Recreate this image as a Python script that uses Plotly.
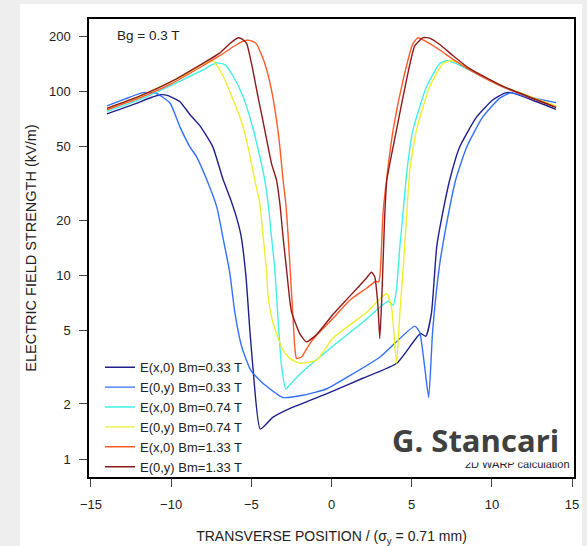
import plotly.graph_objects as go

# ---- data ----
x_ex033 = [-14, -12.5, -11.2, -10.7, -10.2, -9.45, -8.83, -8.2, -7.4, -6.77, -6.34, -5.96, -5.65, -5.34,
           -5.09, -4.9, -4.44, -3.66, -2.41, -0.1, 1.95, 4.07, 5.55, 5.88, 6.23, 6.56, 6.93, 7.37, 7.99,
           9.05, 10.05, 10.8, 11.2, 12.35, 14]
y_ex033 = [75.5, 84, 93, 96, 95, 88, 75, 65, 50, 33.4, 26.6, 21.2, 16.6, 10.0,
           5.03, 3.17, 1.46, 1.69, 1.92, 2.31, 2.76, 3.33, 4.83, 4.67, 6.22, 14.3, 21.8, 33.0, 49.9,
           72.7, 89.8, 98, 98.5, 91, 80]

x_ey033 = [-14, -12.9, -11.76, -10.9, -10.07, -9.45, -8.83, -8.4, -7.77, -7.15, -6.77, -6.34, -6.02,
           -5.59, -5.03, -4.28, -3.03, -1.79, -0.29, 0.95, 3.01, 5.19, 5.5, 5.81, 6.06, 6.31, 6.74,
           7.18, 7.74, 8.43, 9.43, 10.49, 11.17, 12.35, 14]
y_ey033 = [83.5, 90.8, 98.5, 97.5, 86.5, 64.2, 50, 44, 33, 23.5, 16.1, 10.3, 6.23,
           4.07, 3.05, 2.59, 2.17, 2.23, 2.42, 2.79, 3.59, 5.3, 4.91, 3.17, 2.17, 5.03, 11.4,
           19.2, 33, 49.9, 72.7, 92, 98.2, 93, 87]

x_ex074 = [-14, -12, -10, -9, -8, -7.5, -7.15, -6.65, -6.13, -5.51, -4.98, -4.47, -4.16, -3.95, -3.74,
           -3.53, -3.33, -3.12, -2.85, -2.5, -1.98, 0.08, 1.95, 3.53, 3.84, 4.05, 4.26, 4.46, 4.67,
           5.08, 5.92, 6.75, 7.17, 7.68, 8.2, 10.67, 14]
y_ex074 = [78, 90, 108, 119, 131, 139, 143, 140, 121, 93.5, 67, 44.3, 33, 24.6, 16.2,
           10.7, 5.71, 3.25, 2.42, 2.6, 2.9, 4.12, 5.56, 7.24, 6.87, 8.33, 14.3, 21.7, 35,
           61.7, 106, 142, 147, 143, 136, 106, 82.5]

x_ey074 = [-14, -12, -10, -9, -8.2, -7.69, -7.38, -6.75, -6.13, -5.71, -5.3, -4.78, -4.47, -4.26, -4.05,
           -3.95, -3.72, -3.43, -3.02, -2.6, -1.98, -0.93, 0.08, 2.2, 3.43, 3.74, 4.05, 4.26, 4.46,
           4.67, 4.88, 5.3, 6.12, 6.95, 7.5, 7.99, 8.62, 10.67, 14]
y_ey074 = [81, 94, 113, 125, 138, 146, 147, 121, 89.8, 72.7, 54.4, 33, 24.6, 16.2, 10.7,
           7.62, 5.85, 4.83, 3.92, 3.54, 3.33, 3.46, 4.55, 6.31, 7.97, 6.74, 3.33, 6.2, 10.7,
           20, 37.4, 61.7, 106, 142, 147, 142, 132, 107, 83.5]

x_ex133 = [-14, -12, -10, -8.2, -7, -6.13, -5.6, -5.3, -4.95, -4.67, -4.16, -3.74, -3.43, -3.22, -3.02,
           -2.85, -2.7, -2.55, -2.39, -2.29, -2.18, -1.87, -1.35, -0.93, 0.1, 1.14, 2.18, 2.76, 2.92,
           3.01, 3.12, 3.21, 3.43, 3.84, 4.46, 5.08, 5.4, 5.75, 6.75, 7.56, 8.62, 10.67, 14]
y_ex133 = [79.5, 92, 110, 135, 156, 175, 186, 190, 188, 181, 142, 101.8, 70, 50, 33,
           24.6, 16.2, 9.8, 5.71, 4.08, 3.53, 3.6, 4.26, 4.73, 5.85, 7.33, 8.51, 9.3, 9.2,
           9.76, 14.3, 21.7, 33, 61.7, 115, 182, 196, 190, 168, 150, 131, 106, 82]

x_ey133 = [-14, -12, -10, -8.2, -7, -6.4, -6.0, -5.82, -5.6, -5.3, -4.99, -4.58, -4.16, -3.74, -3.43,
           -3.22, -3.02, -2.8, -2.5, -1.98, -1.56, -0.93, 0.1, 1.13, 2.17, 2.49, 2.7, 2.9, 3.01,
           3.13, 3.23, 3.32, 3.45, 4.05, 4.67, 5.19, 5.71, 6.12, 6.75, 7.56, 8.62, 10.67, 14]
y_ey133 = [81, 94, 113, 139, 161, 180, 192, 196, 193, 183, 142, 93.5, 61.7, 40.5, 33,
           24.6, 16.2, 10.7, 6.38, 4.83, 4.35, 4.77, 6.15, 7.69, 9.65, 10.4, 9.8, 6.74, 4.53,
           7.33, 12.9, 21.2, 33, 61.7, 115, 177, 196, 195, 180, 157, 133, 107, 82]

series_names = ["E(x,0) Bm=0.33 T", "E(0,y) Bm=0.33 T", "E(x,0) Bm=0.74 T",
                "E(0,y) Bm=0.74 T", "E(x,0) Bm=1.33 T", "E(0,y) Bm=1.33 T"]
series_colors = ["#20208c", "#3370ff", "#3ff0e6", "#eeee30", "#ff5a28", "#8e1b1b"]
series_x = [x_ex033, x_ey033, x_ex074, x_ey074, x_ex133, x_ey133]
series_y = [y_ex033, y_ey033, y_ex074, y_ey074, y_ex133, y_ey133]

x_ticks = [-15, -10, -5, 0, 5, 10, 15]
x_ticktext = ["\u221215", "\u221210", "\u22125", "0", "5", "10", "15"]
y_ticks = [1, 2, 5, 10, 20, 50, 100, 200]
y_ticktext = ["1", "2", "5", "10", "20", "50", "100", "200"]

FONT = "Liberation Sans, Arial, Helvetica, sans-serif"
TXT = "#222222"

fig = go.Figure()
for name, xs, ys, c in zip(series_names, series_x, series_y, series_colors):
    fig.add_trace(go.Scatter(x=xs, y=ys, mode="lines", name=name,
                             line=dict(color=c, width=1.4, shape="spline", smoothing=0.5)))

axis_common = dict(showgrid=False, zeroline=False, showline=True, linecolor="black",
                   linewidth=1.5, mirror=True, ticks="outside", ticklen=8, tickwidth=1,
                   tickcolor="#444444", tickfont=dict(family=FONT, size=13, color=TXT),
                   automargin=False)

fig.update_layout(
    width=587, height=546,
    margin=dict(l=89, r=13, t=19, b=69),
    paper_bgcolor="#eeeeee", plot_bgcolor="white",
    font=dict(family=FONT, size=13, color=TXT),
    xaxis=dict(range=[-15.12, 15.12], tickvals=x_ticks, ticktext=x_ticktext,
               ticklabelstandoff=7,
               title=dict(text="TRANSVERSE POSITION / (\u03c3<sub>y</sub> = 0.71 mm)",
                          font=dict(family=FONT, size=14, color=TXT), standoff=25),
               **axis_common),
    yaxis=dict(type="log", range=[-0.096, 2.394], tickvals=y_ticks, ticktext=y_ticktext,
               ticklabelstandoff=6,
               title=dict(text="ELECTRIC FIELD STRENGTH (kV/m)",
                          font=dict(family=FONT, size=14.5, color=TXT), standoff=9),
               **axis_common),
    legend=dict(x=0.0227, y=0.2724, xanchor="left", yanchor="top",
                bgcolor="rgba(0,0,0,0)", borderwidth=0,
                font=dict(family=FONT, size=13, color=TXT), itemwidth=30),
    showlegend=True,
    shapes=[dict(type="rect", xref="paper", yref="paper", x0=-0.1423, x1=1.0165,
                 y0=-0.2, y1=1.0328, fillcolor="white", line=dict(width=0), layer="below")],
    annotations=[
        dict(text="Bg = 0.3 T", xref="paper", yref="paper", x=0.0536, y=0.9629,
             xanchor="left", yanchor="middle", showarrow=False,
             font=dict(family=FONT, size=13.5, color=TXT)),
        dict(text="2D WARP calculation", xref="paper", yref="paper", x=0.9959, y=0.0285,
             xanchor="right", yanchor="middle", showarrow=False,
             font=dict(family=FONT, size=11, color=TXT)),
        dict(text="<b>G. Stancari</b>", xref="paper", yref="paper", x=0.7975, y=0.0802,
             xanchor="center", yanchor="middle", showarrow=False, bgcolor="white",
             font=dict(family="Open Sans, sans-serif", size=31, color="#404040")),
    ],
)

fig.write_html("out.html", config={"displayModeBar": False},
               post_script="document.body.style.margin='0';")
